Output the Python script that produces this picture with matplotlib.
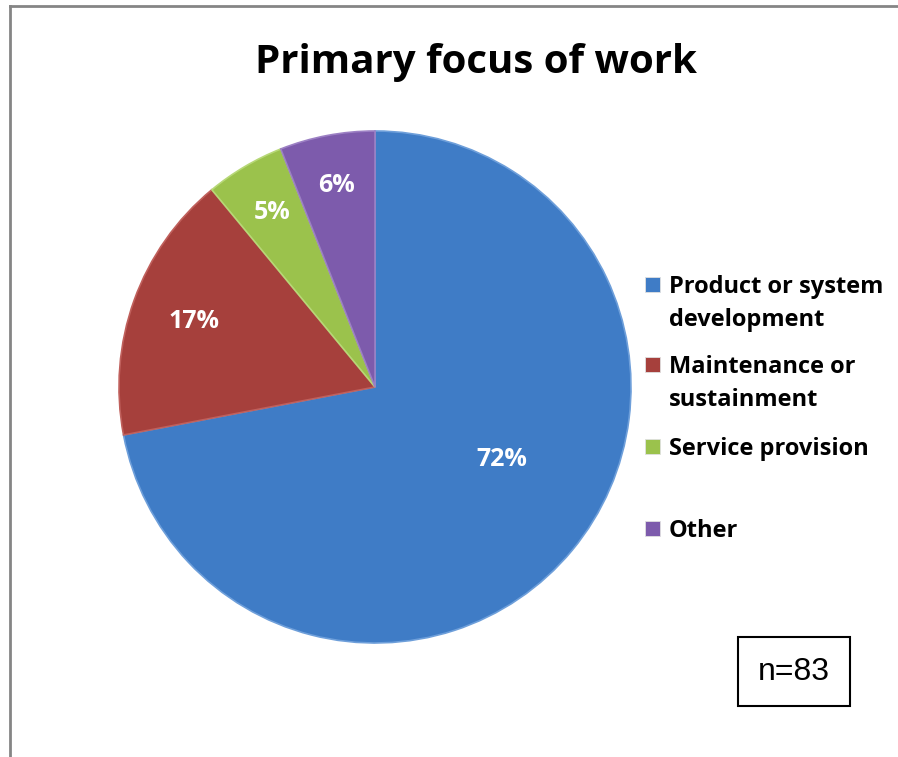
import matplotlib
matplotlib.use("Agg")
import matplotlib.pyplot as plt
from matplotlib.patches import Rectangle
from matplotlib.lines import Line2D
import numpy as np

# Survey results: primary focus of work
categories = ["Product or system\ndevelopment", "Maintenance or\nsustainment",
              "Service provision", "Other"]
shares = [72, 17, 5, 6]
sample_label = "n=83"
title = "Primary focus of work"

colors = ["#3F7CC6", "#A6403C", "#9BC24C", "#7D5BAC"]
edges = ["#6E9FDA", "#C0605C", "#B7D877", "#9C80C4"]

W, H = 898, 757
fig = plt.figure(figsize=(W / 100, H / 100), dpi=100)
fig.patch.set_facecolor("white")

FONT = "Open Sans"


def fx(px):
    return px / W


def fy(py):
    return 1 - py / H


# outer chart border (top and left edges visible)
fig.add_artist(Line2D([fx(10), 1.0], [fy(6), fy(6)], color="#858585", lw=2))
fig.add_artist(Line2D([fx(10), fx(10)], [fy(6), 0.0], color="#858585", lw=2))

# pie axes: centre (375, 387), radius 256 px
cx, cy, r = 375, 387, 256
ax = fig.add_axes([fx(cx - r), fy(cy + r), 2 * r / W, 2 * r / H])
wedges, _ = ax.pie(shares, colors=colors, startangle=90, counterclock=False,
                   radius=1.0,
                   wedgeprops=dict(linewidth=1.2, edgecolor="white"))
for w, ec in zip(wedges, edges):
    w.set_edgecolor(ec)
ax.set_xlim(-1, 1)
ax.set_ylim(-1, 1)
ax.set_aspect("auto")
ax.axis("off")

# percentage labels inside slices
label_r = [0.57, 0.75, 0.79, 0.80]
label_shift = [9.6, 0, 0, 0]
total = sum(shares)
start = 90.0
for val, rr, sh in zip(shares, label_r, label_shift):
    span = 360.0 * val / total
    mid = np.deg2rad(start - span / 2 + sh)
    ax.text(rr * np.cos(mid), rr * np.sin(mid), f"{val}%", ha="center",
            va="center", color="white", fontsize=18, fontweight="bold",
            family=FONT)
    start -= span

# title
fig.text(fx(476), fy(62), title, ha="center", va="center", fontsize=29,
         fontweight="bold", family=FONT, color="black")

# legend
entry_baselines = [293, 373, 455, 537]
line_gap = 33
for label, col, yb in zip(categories, colors, entry_baselines):
    fig.add_artist(Rectangle((fx(645), fy(yb - 1)), 15 / W, 15 / H,
                             facecolor=col, edgecolor="#e0e0e0", lw=0.6))
    for i, line in enumerate(label.split("\n")):
        fig.text(fx(669), fy(yb + i * line_gap), line, ha="left",
                 va="baseline", fontsize=17, fontweight="bold",
                 family=FONT, color="black")

# sample size box
fig.add_artist(Rectangle((fx(738), fy(706)), 112 / W, 69 / H,
                         facecolor="white", edgecolor="black", lw=1.5))
fig.text(fx(794), fy(672), sample_label, ha="center", va="center",
         fontsize=23, family="Liberation Sans", color="black")

fig.savefig("out.png", dpi=100)
